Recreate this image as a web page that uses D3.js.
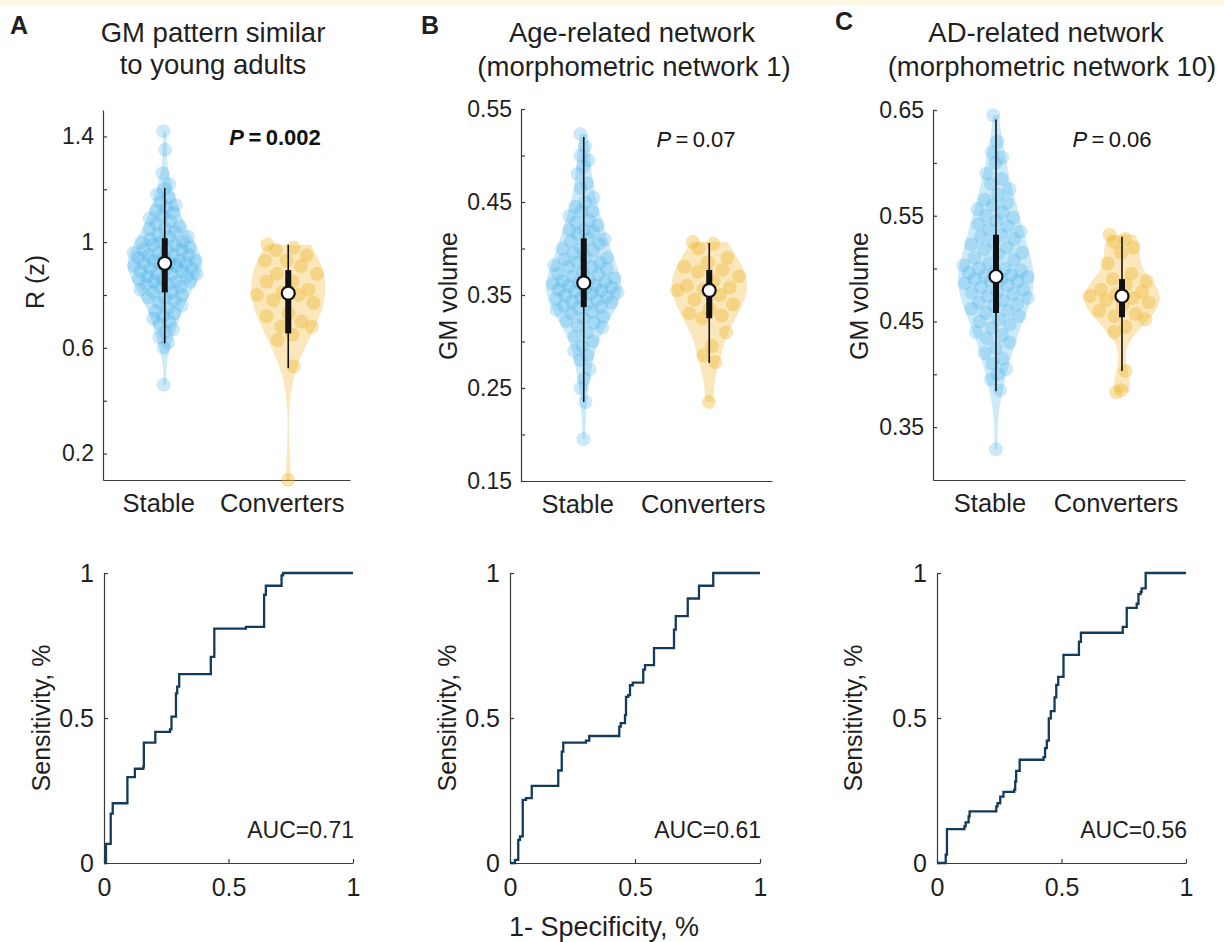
<!DOCTYPE html>
<html lang="en">
<head>
    <meta charset="UTF-8">
    <title>Violin plots and ROC curves</title>
    <script src="https://d3js.org/d3.v7.min.js"></script>
    <style>
        body { margin: 0; background: #fff; }
        text { font-family: "Liberation Sans", Arial, Helvetica, sans-serif; }
    </style>
</head>
<body>
<svg id="fig" width="1224" height="942"></svg>
<script>
// ---------- data ----------
const groups = ["Stable", "Converters"];

// panel A: R (z)
const stableA = [1.42, 1.35, 1.26, 1.22, 1.20, 1.18, 1.17, 1.15, 1.14, 1.13, 1.12, 1.11, 1.10, 1.09, 1.08, 1.07, 1.06, 1.05, 1.05, 1.04, 1.03, 1.02, 1.02, 1.01, 1.00, 1.00, 1.00, 0.99, 0.99, 0.98, 0.97, 0.97, 0.97, 0.96, 0.96, 0.95, 0.95, 0.95, 0.94, 0.94, 0.93, 0.93, 0.93, 0.92, 0.92, 0.92, 0.92, 0.91, 0.91, 0.90, 0.90, 0.90, 0.89, 0.89, 0.88, 0.88, 0.88, 0.87, 0.87, 0.86, 0.86, 0.85, 0.85, 0.85, 0.84, 0.84, 0.83, 0.83, 0.82, 0.81, 0.81, 0.80, 0.79, 0.79, 0.78, 0.77, 0.76, 0.75, 0.74, 0.73, 0.72, 0.71, 0.70, 0.69, 0.67, 0.66, 0.64, 0.62, 0.60, 0.46];
const convA = [0.99, 0.98, 0.97, 0.95, 0.93, 0.93, 0.91, 0.88, 0.88, 0.85, 0.85, 0.82, 0.81, 0.80, 0.80, 0.78, 0.77, 0.73, 0.72, 0.70, 0.68, 0.68, 0.65, 0.63, 0.53, 0.10];
const medA = [0.92, 0.807], q1A = [0.81, 0.655], q3A = [1.015, 0.894], loA = [0.617, 0.523], hiA = [1.205, 0.99];
const ticksA = [0.2, 0.4, 0.6, 0.8, 1.0, 1.2, 1.4];
const tickLabelsA = ["0.2", "", "0.6", "", "1", "", "1.4"];

// panel B: GM volume, morphometric network 1
const stableB = [0.523, 0.51, 0.50, 0.495, 0.488, 0.48, 0.47, 0.465, 0.455, 0.45, 0.445, 0.44, 0.44, 0.435, 0.43, 0.428, 0.425, 0.42, 0.42, 0.418, 0.415, 0.41, 0.41, 0.408, 0.405, 0.40, 0.40, 0.398, 0.395, 0.39, 0.39, 0.388, 0.385, 0.385, 0.382, 0.38, 0.38, 0.378, 0.375, 0.373, 0.372, 0.37, 0.368, 0.366, 0.365, 0.364, 0.363, 0.362, 0.36, 0.36, 0.358, 0.357, 0.356, 0.355, 0.354, 0.353, 0.352, 0.35, 0.348, 0.347, 0.346, 0.345, 0.343, 0.342, 0.34, 0.338, 0.337, 0.336, 0.334, 0.332, 0.33, 0.327, 0.325, 0.322, 0.32, 0.317, 0.315, 0.31, 0.305, 0.30, 0.295, 0.29, 0.285, 0.28, 0.27, 0.26, 0.25, 0.235, 0.195];
const convB = [0.407, 0.405, 0.40, 0.39, 0.385, 0.38, 0.377, 0.375, 0.37, 0.365, 0.36, 0.358, 0.356, 0.355, 0.35, 0.345, 0.34, 0.335, 0.33, 0.328, 0.325, 0.31, 0.295, 0.285, 0.278, 0.235];
const medB = [0.363, 0.355], q1B = [0.337, 0.325], q3B = [0.411, 0.377], loB = [0.235, 0.277], hiB = [0.52, 0.406];
const ticksB = [0.15, 0.2, 0.25, 0.3, 0.35, 0.4, 0.45, 0.5, 0.55];
const tickLabelsB = ["0.15", "", "0.25", "", "0.35", "", "0.45", "", "0.55"];

// panel C: GM volume, morphometric network 10
const stableC = [0.645, 0.62, 0.61, 0.605, 0.60, 0.59, 0.585, 0.58, 0.575, 0.57, 0.565, 0.562, 0.56, 0.556, 0.553, 0.55, 0.548, 0.545, 0.542, 0.54, 0.537, 0.535, 0.532, 0.53, 0.528, 0.525, 0.523, 0.52, 0.518, 0.515, 0.513, 0.51, 0.508, 0.505, 0.503, 0.50, 0.50, 0.498, 0.497, 0.496, 0.494, 0.493, 0.492, 0.49, 0.49, 0.488, 0.487, 0.486, 0.484, 0.482, 0.48, 0.478, 0.477, 0.476, 0.474, 0.472, 0.47, 0.468, 0.466, 0.465, 0.462, 0.46, 0.458, 0.455, 0.452, 0.45, 0.447, 0.444, 0.44, 0.437, 0.434, 0.43, 0.425, 0.42, 0.415, 0.41, 0.405, 0.40, 0.395, 0.385, 0.329];
const convC = [0.532, 0.528, 0.525, 0.52, 0.515, 0.505, 0.495, 0.49, 0.488, 0.485, 0.48, 0.478, 0.476, 0.474, 0.472, 0.47, 0.468, 0.465, 0.46, 0.457, 0.455, 0.452, 0.445, 0.44, 0.403, 0.385, 0.383];
const medC = [0.4925, 0.474], q1C = [0.458, 0.454], q3C = [0.532, 0.49], loC = [0.384, 0.403], hiC = [0.641, 0.53];
const ticksC = [0.35, 0.4, 0.45, 0.5, 0.55, 0.6, 0.65];
const tickLabelsC = ["0.35", "", "0.45", "", "0.55", "", "0.65"];

// ROC curves (1 - specificity, sensitivity)
const fprA = [0, 0.008, 0.027, 0.035, 0.094, 0.124, 0.158, 0.160, 0.206, 0.265, 0.271, 0.289, 0.294, 0.302, 0.429, 0.443, 0.570, 0.643, 0.650, 0.713, 0.719, 1];
const tprA = [0, 0.066, 0.170, 0.206, 0.296, 0.325, 0.333, 0.415, 0.452, 0.461, 0.505, 0.585, 0.608, 0.651, 0.711, 0.808, 0.814, 0.925, 0.956, 0.992, 1, 1];
const fprB = [0, 0.020, 0.033, 0.040, 0.051, 0.064, 0.087, 0.193, 0.207, 0.213, 0.304, 0.317, 0.437, 0.443, 0.460, 0.464, 0.473, 0.480, 0.491, 0.533, 0.540, 0.576, 0.656, 0.663, 0.711, 0.756, 0.813, 1];
const tprB = [0, 0.011, 0.080, 0.092, 0.218, 0.224, 0.266, 0.319, 0.384, 0.415, 0.422, 0.438, 0.470, 0.482, 0.510, 0.573, 0.579, 0.613, 0.622, 0.667, 0.682, 0.741, 0.805, 0.851, 0.912, 0.956, 1, 1];
const fprC = [0, 0.035, 0.040, 0.110, 0.115, 0.127, 0.131, 0.238, 0.243, 0.254, 0.267, 0.310, 0.314, 0.318, 0.332, 0.428, 0.434, 0.441, 0.449, 0.457, 0.472, 0.479, 0.487, 0.508, 0.570, 0.578, 0.746, 0.762, 0.802, 0.809, 0.818, 0.822, 0.838, 1];
const tprC = [0, 0.029, 0.117, 0.126, 0.140, 0.161, 0.178, 0.195, 0.206, 0.229, 0.245, 0.252, 0.281, 0.318, 0.356, 0.365, 0.396, 0.422, 0.499, 0.524, 0.571, 0.614, 0.642, 0.718, 0.763, 0.794, 0.814, 0.880, 0.894, 0.927, 0.935, 0.947, 1, 1];
const aucLabels = ["AUC=0.71", "AUC=0.61", "AUC=0.56"];
const rocTicks = [0, 0.5, 1];
const rocTickLabels = ["0", "0.5", "1"];

// ---------- drawing ----------
const svg = d3.select("#fig");
const FONT = "'Liberation Sans', Arial, Helvetica, sans-serif";
const INK = "#1f1f1f";
const AXIS = "#3a3a3a";
const groupColor = ["#3eaee9", "#f0b52e"];
const violinAlpha = [0.26, 0.32];
const dotAlpha = [0.27, 0.38];

svg.append("rect").attr("x", 0).attr("y", 0).attr("width", 1224).attr("height", 5).attr("fill", "#fdf6e2");

function styleAxis(sel, size) {
    sel.attr("font-size", size).attr("font-family", FONT);
    sel.selectAll("path, line").attr("stroke", AXIS).attr("stroke-width", 1.2);
    sel.selectAll("text").attr("fill", INK);
}

// gaussian kernel density, bandwidth like MATLAB ksdensity default (times a smoothing factor)
function density(vals, k) {
    const n = vals.length;
    const med = d3.median(vals);
    const sig = d3.median(vals, v => Math.abs(v - med)) / 0.6745;
    const h = k * sig * Math.pow(4 / (3 * n), 0.2);
    return t => d3.sum(vals, v => Math.exp(-0.5 * ((t - v) / h) ** 2));
}

function drawViolins(values, med, q1, q3, lo, hi, ticks, tickLabels, L) {
    const x = d3.scaleLinear().domain([0.5, 2.5]).range([L.x0, L.x1]);
    const y = d3.scaleLinear().domain(L.dom).range([L.y1, L.y0]);
    const maxHalf = 0.3 * (x(2) - x(1));
    const g = svg.append("g");

    g.append("g").attr("transform", `translate(${L.x0},0)`)
        .call(d3.axisLeft(y).tickValues(ticks).tickFormat((d, i) => tickLabels[i])
            .tickSize(-4).tickSizeOuter(0).tickPadding(9))
        .call(s => styleAxis(s, 23));
    g.append("g").attr("transform", `translate(0,${L.y1})`)
        .call(d3.axisBottom(x).tickValues([]).tickSizeOuter(0))
        .call(s => styleAxis(s, 23));

    g.selectAll(".cat").data(groups).join("text")
        .attr("x", (d, i) => x(i + 1) - 6).attr("y", L.y1 + 32)
        .attr("text-anchor", "middle").attr("font-size", 25.5).attr("fill", INK)
        .text(d => d);

    values.forEach((vals, gi) => {
        const cx = x(gi + 1);
        const dens = density(vals, L.bw[gi]);
        const vmin = d3.min(vals), vmax = d3.max(vals);
        const grid = d3.range(0, 161).map(i => vmin + (vmax - vmin) * i / 160);
        const dmax = d3.max(grid, dens);
        const half = v => dens(v) / dmax * maxHalf;

        g.append("path").datum(grid)
            .attr("d", d3.area().y(v => y(v)).x0(v => cx - half(v)).x1(v => cx + half(v)))
            .attr("fill", groupColor[gi]).attr("fill-opacity", violinAlpha[gi]);

        g.append("g").selectAll("circle").data(vals).join("circle")
            .attr("cx", (v, i) => cx + (((i * 0.6180339887) % 1) * 2 - 1) * 0.92 * half(v))
            .attr("cy", v => y(v)).attr("r", 7)
            .attr("fill", groupColor[gi]).attr("fill-opacity", dotAlpha[gi]);

        g.append("line").attr("x1", cx).attr("x2", cx)
            .attr("y1", y(lo[gi])).attr("y2", y(hi[gi]))
            .attr("stroke", "#111").attr("stroke-width", 1.6);
        g.append("line").attr("x1", cx).attr("x2", cx)
            .attr("y1", y(q1[gi])).attr("y2", y(q3[gi]))
            .attr("stroke", "#111").attr("stroke-width", 6);
        g.append("circle").attr("cx", cx).attr("cy", y(med[gi])).attr("r", 6.5)
            .attr("fill", "#fff").attr("stroke", "#111").attr("stroke-width", 2.2);
    });
}

function drawRoc(fpr, tpr, auc, L) {
    const x = d3.scaleLinear().domain([0, 1]).range([L.x0, L.x1]);
    const y = d3.scaleLinear().domain([0, 1]).range([L.y1, L.y0]);
    const g = svg.append("g");
    g.append("g").attr("transform", `translate(${L.x0},0)`)
        .call(d3.axisLeft(y).tickValues(rocTicks).tickFormat((d, i) => rocTickLabels[i])
            .tickSize(-4).tickSizeOuter(0).tickPadding(10))
        .call(s => styleAxis(s, 25));
    g.append("g").attr("transform", `translate(0,${L.y1})`)
        .call(d3.axisBottom(x).tickValues(rocTicks).tickFormat((d, i) => rocTickLabels[i])
            .tickSize(-4).tickSizeOuter(0).tickPadding(15))
        .call(s => styleAxis(s, 25));
    g.append("path").datum(d3.zip(fpr, tpr))
        .attr("d", d3.line().x(d => x(d[0])).y(d => y(d[1])).curve(d3.curveStepAfter))
        .attr("fill", "none").attr("stroke", "#143b5c").attr("stroke-width", 2.3);
    g.append("text").attr("x", L.x1 + 1).attr("y", 838).attr("text-anchor", "end")
        .attr("font-size", 23).attr("fill", INK).text(auc);
}

drawViolins([stableA, convA], medA, q1A, q3A, loA, hiA, ticksA, tickLabelsA,
    { x0: 103, x1: 350, y0: 110, y1: 480, dom: [0.1, 1.5], bw: [1, 1.25] });
drawViolins([stableB, convB], medB, q1B, q3B, loB, hiB, ticksB, tickLabelsB,
    { x0: 521, x1: 772, y0: 109, y1: 481, dom: [0.15, 0.55], bw: [1, 1.1] });
drawViolins([stableC, convC], medC, q1C, q3C, loC, hiC, ticksC, tickLabelsC,
    { x0: 933, x1: 1185, y0: 110, y1: 480, dom: [0.3, 0.65], bw: [1, 0.9] });

drawRoc(fprA, tprA, aucLabels[0], { x0: 104, x1: 353, y0: 573, y1: 863 });
drawRoc(fprB, tprB, aucLabels[1], { x0: 510, x1: 760, y0: 573, y1: 863 });
drawRoc(fprC, tprC, aucLabels[2], { x0: 937, x1: 1186, y0: 573, y1: 863 });

// titles and letters
function label(x, y, txt, size, opts = {}) {
    const t = svg.append("text").attr("x", x).attr("y", y).attr("font-size", size)
        .attr("fill", INK).attr("text-anchor", opts.anchor || "middle")
        .attr("font-weight", opts.bold ? "bold" : null);
    if (opts.rotate) t.attr("transform", `rotate(-90,${x},${y})`);
    t.text(txt);
    return t;
}
label(10, 34, "A", 25, { anchor: "start", bold: true });
label(421, 34, "B", 25, { anchor: "start", bold: true });
label(835, 30, "C", 25, { anchor: "start", bold: true });

label(213, 42, "GM pattern similar", 27.5);
label(213, 74, "to young adults", 27.5);
label(632, 42, "Age-related network", 27.5);
label(634, 76, "(morphometric network 1)", 27.5);
label(1046, 42, "AD-related network", 27.5);
label(1052, 76, "(morphometric network 10)", 27.5);

label(44, 282, "R (z)", 25, { rotate: true });
label(457, 296, "GM volume", 25, { rotate: true });
label(868, 296, "GM volume", 25, { rotate: true });
label(50, 718, "Sensitivity, %", 25, { rotate: true });
label(456, 718, "Sensitivity, %", 25, { rotate: true });
label(862, 718, "Sensitivity, %", 25, { rotate: true });
label(604, 936, "1- Specificity, %", 27);

// P values
function pText(x, y, val, bold) {
    const t = svg.append("text").attr("x", x).attr("y", y).attr("font-size", 22)
        .attr("fill", "#111").attr("text-anchor", "middle")
        .attr("font-weight", bold ? "bold" : null);
    t.append("tspan").attr("font-style", "italic").text("P");
    t.append("tspan").text("\u2009=\u2009" + val);
}
pText(275, 145, "0.002", true);
pText(696, 147, "0.07", false);
pText(1112, 147, "0.06", false);
</script>
</body>
</html>
